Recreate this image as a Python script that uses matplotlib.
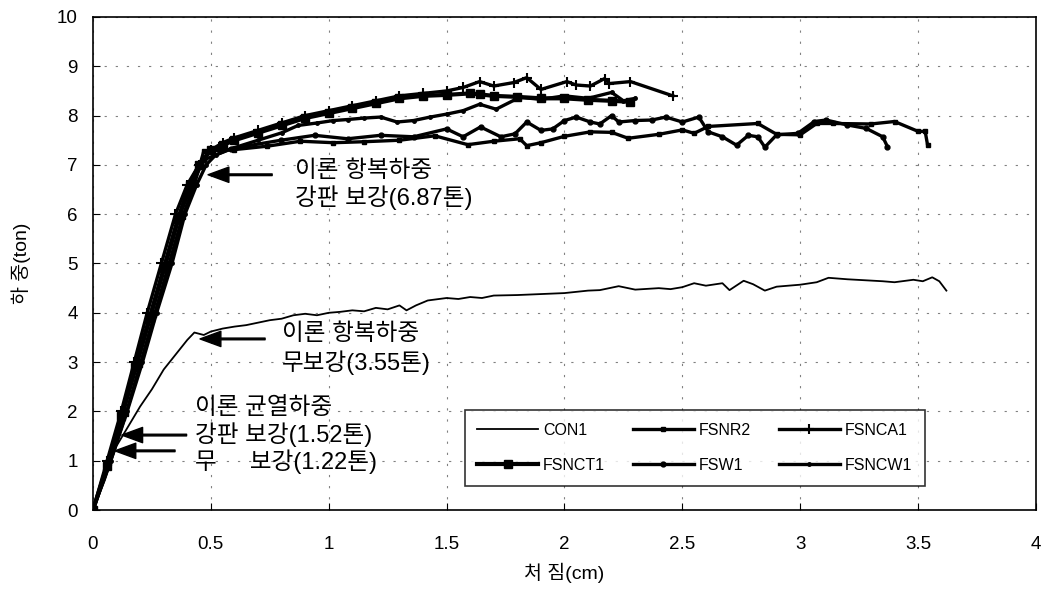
import matplotlib
matplotlib.use("Agg")
import matplotlib.pyplot as plt

plt.rcParams['font.family'] = ['Liberation Sans', 'Noto Sans CJK KR', 'DejaVu Sans']

# Load-deflection data (x: cm, y: ton)
con1_x = [0, 0.05, 0.1, 0.15, 0.2, 0.25, 0.3, 0.35, 0.4, 0.43, 0.47, 0.5, 0.55, 0.6, 0.65,
          0.7, 0.75, 0.8, 0.85, 0.9, 0.95, 1.0, 1.05, 1.1, 1.15, 1.2, 1.25, 1.3, 1.33, 1.37,
          1.42, 1.5, 1.55, 1.6, 1.65, 1.7, 1.8, 1.9, 2.0, 2.1, 2.15, 2.23, 2.3, 2.4, 2.45,
          2.5, 2.55, 2.6, 2.67, 2.7, 2.76, 2.8, 2.85, 2.9, 3.0, 3.07, 3.12, 3.2, 3.35, 3.4,
          3.48, 3.52, 3.56, 3.59, 3.62]
con1_y = [0, 0.6, 1.3, 1.7, 2.1, 2.45, 2.85, 3.15, 3.45, 3.6, 3.55, 3.62, 3.68, 3.72, 3.75,
          3.8, 3.85, 3.88, 3.95, 3.98, 3.95, 4.0, 4.02, 4.05, 4.03, 4.1, 4.07, 4.15, 4.05, 4.15,
          4.25, 4.3, 4.28, 4.32, 4.3, 4.35, 4.36, 4.38, 4.4, 4.45, 4.46, 4.54, 4.47, 4.5, 4.48,
          4.52, 4.6, 4.55, 4.6, 4.46, 4.65, 4.58, 4.45, 4.53, 4.57, 4.62, 4.71, 4.68, 4.64, 4.62,
          4.67, 4.64, 4.72, 4.64, 4.45]

fsnr2_x = [0, 0.07, 0.14, 0.2, 0.26, 0.32, 0.38, 0.43, 0.47, 0.6, 0.74, 0.88, 1.02, 1.15,
           1.3, 1.45, 1.59, 1.7, 1.81, 1.84, 1.9, 2.0, 2.11, 2.2, 2.27, 2.4, 2.5, 2.55, 2.61,
           2.82, 2.9, 3.0, 3.07, 3.14, 3.3, 3.4, 3.5, 3.53, 3.54]
fsnr2_y = [0, 0.95, 1.95, 2.95, 3.95, 4.95, 5.95, 6.6, 7.28, 7.31, 7.38, 7.48, 7.45, 7.47,
           7.5, 7.59, 7.41, 7.48, 7.53, 7.39, 7.45, 7.58, 7.67, 7.66, 7.54, 7.62, 7.71, 7.64, 7.78,
           7.84, 7.62, 7.61, 7.84, 7.84, 7.83, 7.88, 7.68, 7.68, 7.41]

fsnca1_x = [0, 0.06, 0.12, 0.175, 0.23, 0.29, 0.35, 0.4, 0.45, 0.5, 0.55, 0.6, 0.7, 0.8, 0.9,
            1.0, 1.1, 1.2, 1.3, 1.4, 1.5, 1.57, 1.64, 1.7, 1.785, 1.84, 1.9, 2.01, 2.05, 2.11,
            2.17, 2.19, 2.28, 2.46]
fsnca1_y = [0, 1.0, 2.0, 3.0, 4.0, 5.0, 6.0, 6.6, 7.0, 7.3, 7.45, 7.55, 7.7, 7.85, 8.0,
            8.1, 8.2, 8.3, 8.4, 8.45, 8.5, 8.57, 8.69, 8.6, 8.67, 8.77, 8.53, 8.69, 8.62, 8.6,
            8.75, 8.65, 8.69, 8.4]

fsnct1_x = [0, 0.06, 0.12, 0.18, 0.24, 0.3, 0.36, 0.41, 0.45, 0.5, 0.55, 0.6, 0.7, 0.8, 0.9,
            1.0, 1.1, 1.2, 1.3, 1.4, 1.5, 1.6, 1.64, 1.7, 1.8, 1.9, 2.0, 2.1, 2.2, 2.28]
fsnct1_y = [0, 0.9, 1.9, 2.9, 3.9, 4.9, 5.9, 6.6, 7.0, 7.3, 7.4, 7.5, 7.65, 7.8, 7.95,
            8.05, 8.15, 8.25, 8.35, 8.4, 8.42, 8.45, 8.43, 8.4, 8.38, 8.35, 8.35, 8.32, 8.3, 8.28]

fsw1_x = [0, 0.065, 0.13, 0.19, 0.25, 0.31, 0.37, 0.42, 0.47, 0.585, 0.797, 0.94, 1.08, 1.22,
          1.36, 1.5, 1.57, 1.644, 1.73, 1.79, 1.84, 1.9, 1.95, 2.0, 2.05, 2.11, 2.15, 2.2,
          2.23, 2.3, 2.37, 2.43, 2.5, 2.57, 2.61, 2.67, 2.73, 2.78, 2.82, 2.85, 2.9, 2.99,
          3.06, 3.11, 3.2, 3.28, 3.35, 3.37]
fsw1_y = [0, 1.0, 2.0, 3.0, 4.0, 5.0, 6.0, 6.6, 7.1, 7.33, 7.5, 7.6, 7.53, 7.6,
          7.57, 7.73, 7.57, 7.77, 7.57, 7.63, 7.87, 7.7, 7.73, 7.9, 7.97, 7.87, 7.83, 8.0,
          7.87, 7.9, 7.91, 7.97, 7.87, 7.97, 7.67, 7.57, 7.4, 7.6, 7.57, 7.36, 7.61, 7.64,
          7.88, 7.91, 7.81, 7.74, 7.57, 7.37]

fsncw1_x = [0, 0.075, 0.145, 0.21, 0.27, 0.335, 0.39, 0.44, 0.48, 0.52, 0.6, 0.7, 0.8, 0.87,
            0.95, 1.02, 1.08, 1.15, 1.22, 1.29, 1.36, 1.43, 1.5, 1.57, 1.64, 1.71, 1.81, 1.9,
            2.0, 2.1, 2.2, 2.25, 2.3]
fsncw1_y = [0, 1.0, 2.0, 3.0, 4.0, 5.0, 6.0, 6.6, 7.0, 7.2, 7.35, 7.5, 7.65, 7.8,
            7.85, 7.9, 7.92, 7.95, 7.97, 7.87, 7.9, 7.97, 8.03, 8.1, 8.23, 8.13, 8.37, 8.33,
            8.4, 8.35, 8.47, 8.3, 8.35]

x_ticks = [0, 0.5, 1, 1.5, 2, 2.5, 3, 3.5, 4]
x_tick_labels = ['0', '0.5', '1', '1.5', '2', '2.5', '3', '3.5', '4']
y_ticks = list(range(0, 11))

fig = plt.figure(figsize=(10.46, 5.92), dpi=100)
ax = fig.add_axes([0.0889, 0.1385, 0.9015, 0.8328])

h_con1, = ax.plot(con1_x, con1_y, color='black', lw=1.3, label='CON1')
h_fsnr2, = ax.plot(fsnr2_x, fsnr2_y, color='black', lw=2.4, marker='s', ms=3.5, label='FSNR2')
h_fsnca1, = ax.plot(fsnca1_x, fsnca1_y, color='black', lw=2.4, marker='+', ms=7, mew=1.5,
                    label='FSNCA1')
h_fsnct1, = ax.plot(fsnct1_x, fsnct1_y, color='black', lw=3.0, marker='s', ms=5.5, label='FSNCT1')
h_fsw1, = ax.plot(fsw1_x, fsw1_y, color='black', lw=2.4, marker='o', ms=3.5, label='FSW1')
h_fsncw1, = ax.plot(fsncw1_x, fsncw1_y, color='black', lw=2.4, marker='o', ms=2.5, label='FSNCW1')

ax.set_xlim(0, 4)
ax.set_ylim(0, 10)
ax.set_xticks(x_ticks)
ax.set_xticklabels(x_tick_labels)
ax.set_yticks(y_ticks)
ax.tick_params(direction='in', labelsize=13.5, length=5, colors='black')
ax.tick_params(axis='x', pad=19)
ax.tick_params(axis='y', pad=11)
ax.grid(True, color='0.5', linestyle=(0, (2, 8)), linewidth=0.8)
for s in ax.spines.values():
    s.set_linewidth(1.2)

ax.set_xlabel('처 짐(cm)', fontsize=14)
ax.xaxis.set_label_coords(0.5, -0.108)
ax.set_ylabel('하 중(ton)', fontsize=14)
ax.yaxis.set_label_coords(-0.066, 0.5)

arrow = dict(facecolor='black', edgecolor='black', width=1.2, headwidth=11, headlength=15, shrink=0)
fs = 17
ax.annotate('', xy=(0.488, 6.8), xytext=(0.76, 6.8), arrowprops=arrow)
ax.text(0.855, 6.88, '이론 항복하중', fontsize=fs, va='center')
ax.text(0.855, 6.33, '강판 보강(6.87톤)', fontsize=fs, va='center')

ax.annotate('', xy=(0.454, 3.47), xytext=(0.73, 3.47), arrowprops=arrow)
ax.text(0.80, 3.58, '이론 항복하중', fontsize=fs, va='center')
ax.text(0.80, 2.98, '무보강(3.55톤)', fontsize=fs, va='center')

ax.annotate('', xy=(0.122, 1.52), xytext=(0.397, 1.52), arrowprops=arrow)
ax.annotate('', xy=(0.093, 1.2), xytext=(0.348, 1.2), arrowprops=arrow)
ax.text(0.433, 2.07, '이론 균열하중', fontsize=fs, va='center')
ax.text(0.433, 1.53, '강판 보강(1.52톤)', fontsize=fs, va='center')
ax.text(0.433, 0.97, '무     보강(1.22톤)', fontsize=fs, va='center')

# legend filled column-wise, so order handles to read row-wise like the original
handles = [h_con1, h_fsnct1, h_fsnr2, h_fsw1, h_fsnca1, h_fsncw1]
leg = ax.legend(handles=handles, loc='center', bbox_to_anchor=(0.394, 0.049, 0.488, 0.154),
                mode='expand', ncol=3, fontsize=11.5, handlelength=3.8, labelspacing=1.25,
                frameon=True, fancybox=False, edgecolor='black', borderaxespad=0,
                borderpad=0.8, columnspacing=1.5, handletextpad=0.3)
leg.get_frame().set_linewidth(1.2)

fig.savefig('out.png', dpi=100)
